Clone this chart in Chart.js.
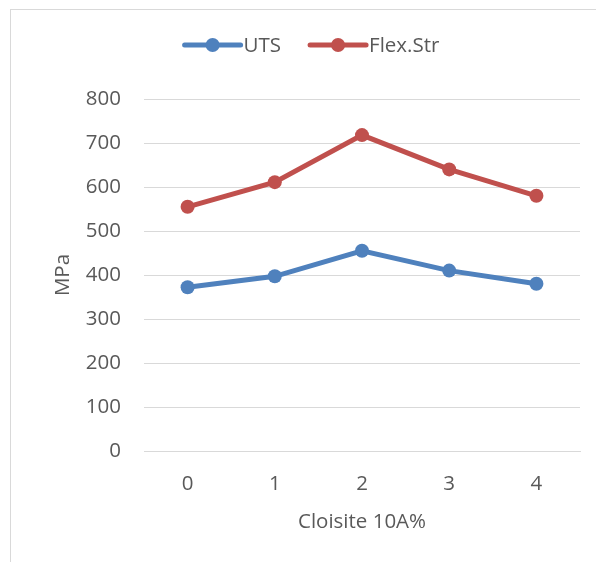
<!DOCTYPE html>
<html>
<head>
<meta charset="utf-8">
<script src="https://cdn.jsdelivr.net/npm/chart.js@4/dist/chart.umd.min.js"></script>
<style>
  body { margin: 0; background: #fff; }
  #frame { position: absolute; left: 10px; top: 9px; width: 620px; height: 620px; border: 1px solid #d9d9d9; }
  #wrap { position: absolute; left: 0; top: 0; width: 596px; height: 562px; }
</style>
</head>
<body>
<div id="frame"></div>
<div id="wrap"><canvas id="chart" width="596" height="562"></canvas></div>
<script>
// data
const categories = ["0", "1", "2", "3", "4"];
const uts = [372, 397, 455, 410, 380];
const flexStr = [555, 611, 718, 640, 580];
const yTicks = [0, 100, 200, 300, 400, 500, 600, 700, 800];

const fontFam = "'Open Sans', 'Liberation Sans', sans-serif";
const fontSize = 20.5;
const textColor = '#595959';
const gridColor = '#d9d9d9';

// legend like excel: line with a dot in the middle
const excelLegend = {
    id: 'excelLegend',
    afterDraw(chart) {
        const ctx = chart.ctx;
        ctx.save();
        ctx.font = fontSize + 'px ' + fontFam;
        const items = chart.data.datasets.map(ds => ({ ds: ds, w: ctx.measureText(ds.label).width }));
        const lineW = 56, gap = 3, itemGap = 29;
        let total = 0;
        items.forEach((it, i) => { total += lineW + gap + it.w + (i < items.length - 1 ? itemGap : 0); });
        let x = 312 - total / 2;
        const y = 45;
        items.forEach(it => {
            ctx.strokeStyle = it.ds.borderColor;
            ctx.lineWidth = 5;
            ctx.lineCap = 'round';
            ctx.beginPath();
            ctx.moveTo(x, y);
            ctx.lineTo(x + lineW, y);
            ctx.stroke();
            ctx.fillStyle = it.ds.borderColor;
            ctx.beginPath();
            ctx.arc(x + lineW / 2, y, 7, 0, Math.PI * 2);
            ctx.fill();
            ctx.fillStyle = textColor;
            ctx.textBaseline = 'middle';
            ctx.textAlign = 'left';
            ctx.fillText(it.ds.label, x + lineW + gap, y + 1);
            x += lineW + gap + it.w + itemGap;
        });
        ctx.restore();
    }
};

var ctx = document.querySelector('#chart').getContext('2d');
var myChart = new Chart(ctx, {
    type: 'line',
    data: {
        labels: categories,
        datasets: [{
            label: 'UTS',
            data: uts,
            borderColor: '#4f81bd',
            backgroundColor: '#4f81bd',
            borderWidth: 5,
            pointRadius: 7,
            pointHoverRadius: 7,
            pointBorderWidth: 0,
            tension: 0
        }, {
            label: 'Flex.Str',
            data: flexStr,
            borderColor: '#c0504d',
            backgroundColor: '#c0504d',
            borderWidth: 5,
            pointRadius: 7,
            pointHoverRadius: 7,
            pointBorderWidth: 0,
            tension: 0
        }]
    },
    options: {
        responsive: false,
        animation: false,
        layout: { padding: { top: 99, right: 16, bottom: 0, left: 0 } },
        plugins: {
            legend: { display: false },
            tooltip: { enabled: false }
        },
        scales: {
            x: {
                offset: true,
                grid: { display: false, drawTicks: false },
                border: { display: true, color: gridColor, width: 1 },
                ticks: { color: textColor, font: { family: fontFam, size: fontSize }, padding: 21 },
                title: {
                    display: true, text: 'Cloisite 10A%', color: textColor,
                    font: { family: fontFam, size: fontSize }, padding: { top: 0, bottom: 28 }
                },
                afterFit(scale) { scale.height = 111; }
            },
            y: {
                min: 0,
                max: 800,
                afterBuildTicks(scale) { scale.ticks = yTicks.map(v => ({ value: v })); },
                grid: { color: gridColor, lineWidth: 1, drawTicks: false },
                border: { display: false },
                ticks: { color: textColor, font: { family: fontFam, size: fontSize }, padding: 23 },
                title: {
                    display: true, text: 'MPa', color: textColor,
                    font: { family: fontFam, size: fontSize }, padding: { top: 51, bottom: 0 }
                },
                afterFit(scale) { scale.width = 144; }
            }
        }
    },
    plugins: [excelLegend]
});
</script>
</body>
</html>
